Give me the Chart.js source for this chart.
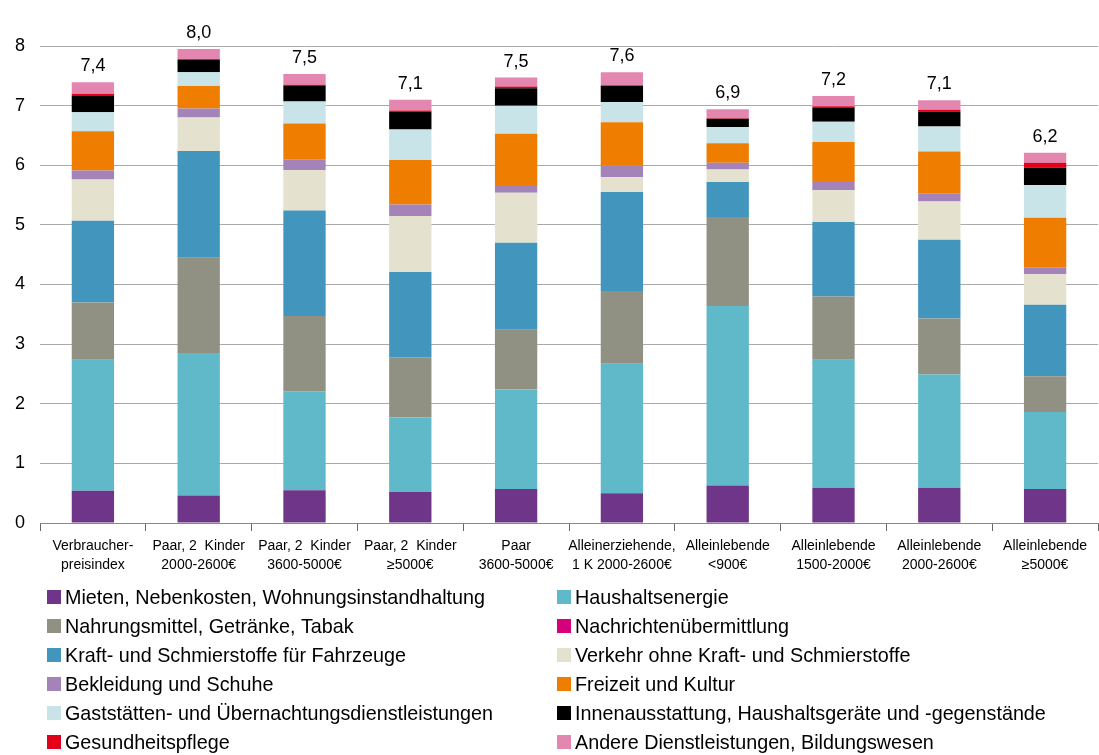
<!DOCTYPE html>
<html>
<head>
<meta charset="utf-8">
<script src="https://cdn.jsdelivr.net/npm/chart.js@4"></script>
<style>
  html, body { margin: 0; padding: 0; background: #fff; }
</style>
</head>
<body>
<canvas id="myChart" width="1099" height="755"></canvas>
<script>
const categories = [
    ['Verbraucher-', 'preisindex'],
    ['Paar, 2  Kinder', '2000-2600€'],
    ['Paar, 2  Kinder', '3600-5000€'],
    ['Paar, 2  Kinder', '≥5000€'],
    ['Paar', '3600-5000€'],
    ['Alleinerziehende,', '1 K 2000-2600€'],
    ['Alleinlebende', '<900€'],
    ['Alleinlebende', '1500-2000€'],
    ['Alleinlebende', '2000-2600€'],
    ['Alleinlebende', '≥5000€']
];
const totals = ['7,4', '8,0', '7,5', '7,1', '7,5', '7,6', '6,9', '7,2', '7,1', '6,2'];

const mieten       = [0.54, 0.46, 0.55, 0.52, 0.57, 0.50, 0.63, 0.59, 0.59, 0.57];
const energie      = [2.20, 2.39, 1.66, 1.25, 1.67, 2.17, 3.01, 2.15, 1.90, 1.29];
const nahrung      = [0.96, 1.60, 1.26, 1.01, 1.00, 1.22, 1.49, 1.06, 0.94, 0.60];
const nachrichten  = [0, 0, 0, 0, 0, 0, 0, 0, 0, 0];
const kraftstoffe  = [1.37, 1.79, 1.77, 1.43, 1.46, 1.66, 0.59, 1.25, 1.32, 1.20];
const verkehr      = [0.69, 0.56, 0.68, 0.94, 0.84, 0.25, 0.21, 0.53, 0.64, 0.51];
const bekleidung   = [0.15, 0.15, 0.18, 0.19, 0.13, 0.20, 0.11, 0.14, 0.14, 0.12];
const freizeit     = [0.66, 0.38, 0.60, 0.75, 0.86, 0.72, 0.33, 0.67, 0.70, 0.83];
const gaststaetten = [0.32, 0.23, 0.37, 0.51, 0.47, 0.34, 0.27, 0.34, 0.42, 0.55];
const innen        = [0.27, 0.21, 0.26, 0.30, 0.29, 0.27, 0.14, 0.23, 0.25, 0.29];
const gesundheit   = [0.04, 0.01, 0.02, 0.02, 0.03, 0.01, 0.01, 0.03, 0.03, 0.08];
const andere       = [0.19, 0.17, 0.18, 0.18, 0.15, 0.22, 0.15, 0.17, 0.16, 0.17];

const font = "'Liberation Sans', Arial, sans-serif";

const series = [
    ['Mieten, Nebenkosten, Wohnungsinstandhaltung', mieten, '#6f3589'],
    ['Haushaltsenergie', energie, '#5fb9c9'],
    ['Nahrungsmittel, Getränke, Tabak', nahrung, '#919183'],
    ['Nachrichtenübermittlung', nachrichten, '#d6007d'],
    ['Kraft- und Schmierstoffe für Fahrzeuge', kraftstoffe, '#4296be'],
    ['Verkehr ohne Kraft- und Schmierstoffe', verkehr, '#e4e2ce'],
    ['Bekleidung und Schuhe', bekleidung, '#a483b8'],
    ['Freizeit und Kultur', freizeit, '#ef7d00'],
    ['Gaststätten- und Übernachtungsdienstleistungen', gaststaetten, '#c9e4e8'],
    ['Innenausstattung, Haushaltsgeräte und -gegenstände', innen, '#000000'],
    ['Gesundheitspflege', gesundheit, '#e3001b'],
    ['Andere Dienstleistungen, Bildungswesen', andere, '#e487b0']
];

// totals above each stack
const totalsPlugin = {
    id: 'totals',
    afterDatasetsDraw: (chart) => {
        const ctx = chart.ctx;
        const y = chart.scales.y;
        const lastMeta = chart.getDatasetMeta(chart.data.datasets.length - 1);
        ctx.save();
        ctx.font = '18px ' + font;
        ctx.fillStyle = '#000';
        ctx.textAlign = 'center';
        ctx.textBaseline = 'alphabetic';
        categories.forEach((c, i) => {
            let sum = 0;
            chart.data.datasets.forEach(ds => { sum += ds.data[i]; });
            ctx.fillText(totals[i], lastMeta.data[i].x, y.getPixelForValue(sum) - 11);
        });
        ctx.restore();
    }
};

// two column legend under the chart
const legendPlugin = {
    id: 'twoColLegend',
    afterDraw: (chart) => {
        const ctx = chart.ctx;
        ctx.save();
        ctx.font = '21px ' + font;
        ctx.textBaseline = 'middle';
        chart.data.datasets.forEach((ds, i) => {
            const col = i % 2;
            const row = Math.floor(i / 2);
            const bx = col === 0 ? 47 : 557;
            const cy = 597 + row * 29;
            ctx.fillStyle = ds.backgroundColor;
            ctx.fillRect(bx, cy - 7, 14, 14);
            ctx.fillStyle = '#000';
            ctx.save();
            ctx.translate(bx + 18, cy + 1);
            ctx.scale(0.94, 1);
            ctx.fillText(ds.label, 0, 0);
            ctx.restore();
        });
        ctx.restore();
    }
};

const ctx = document.getElementById('myChart').getContext('2d');
const myChart = new Chart(ctx, {
    type: 'bar',
    data: {
        labels: categories,
        datasets: series.map(s => ({
            label: s[0],
            data: s[1],
            backgroundColor: s[2],
            borderWidth: 0,
            barPercentage: 0.4,
            categoryPercentage: 1
        }))
    },
    options: {
        responsive: false,
        animation: false,
        layout: { padding: { top: 46, right: 1, bottom: 172, left: 0 } },
        plugins: {
            legend: { display: false },
            tooltip: { enabled: false }
        },
        scales: {
            x: {
                stacked: true,
                afterFit: (s) => { s.height = 60; },
                grid: { offset: true, drawOnChartArea: false, drawTicks: true, tickLength: 8, color: '#666' },
                border: { display: true, color: '#888' },
                ticks: { color: '#000', padding: 5, maxRotation: 0, autoSkip: false, font: { family: font, size: 14, lineHeight: 1.4 } }
            },
            y: {
                stacked: true,
                min: 0,
                max: 8,
                afterFit: (s) => { s.width = 40; },
                grid: { color: '#aaaaaa', drawTicks: false },
                border: { display: false },
                ticks: { stepSize: 1, color: '#000', padding: 15, font: { family: font, size: 18 } }
            }
        }
    },
    plugins: [totalsPlugin, legendPlugin]
});
</script>
</body>
</html>
